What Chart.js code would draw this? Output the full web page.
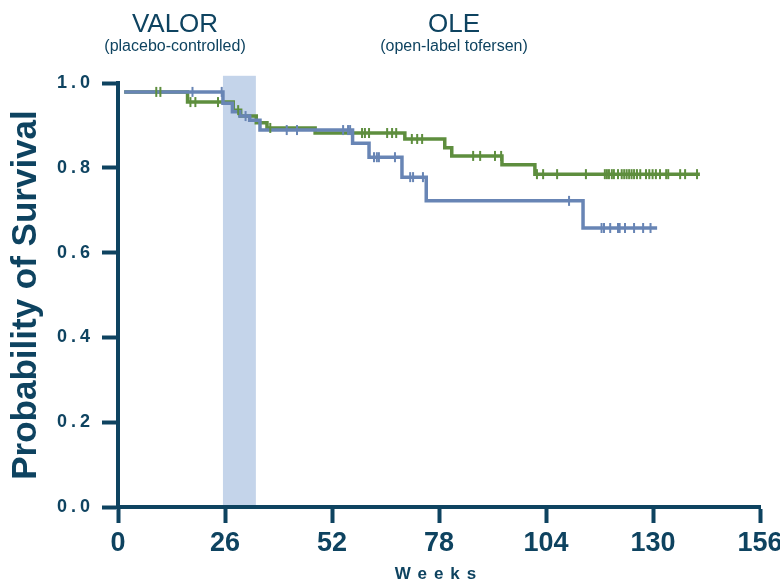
<!DOCTYPE html>
<html>
<head>
<meta charset="utf-8">
<script src="https://cdn.jsdelivr.net/npm/chart.js@4.4.1/dist/chart.umd.min.js"></script>
<style>
  html, body { margin: 0; padding: 0; background: #fff; }
  #wrap { width: 780px; height: 583px; position: relative; }
</style>
</head>
<body>
<div id="wrap"><canvas id="km"></canvas></div>
<script>
// Kaplan-Meier steps (weeks, probability of survival)
const greenWeeks = [1.5, 16.9, 28.0, 29.8, 33.6, 36.2, 47.9, 69.7, 79.4, 81.1, 93.3, 101.3, 141.4];
const greenSurv  = [0.979, 0.955, 0.936, 0.922, 0.906, 0.894, 0.882, 0.868, 0.847, 0.828, 0.807, 0.785, 0.785];
const blueWeeks  = [1.5, 25.5, 27.8, 29.6, 32.0, 34.5, 57.0, 61.0, 69.0, 74.9, 113.0, 131.0];
const blueSurv   = [0.979, 0.952, 0.932, 0.922, 0.912, 0.889, 0.858, 0.825, 0.778, 0.722, 0.658, 0.658];

// censored observations (weeks)
const greenCensor = [9.3, 10.3, 17.6, 18.8, 24.3, 29.2, 37.0, 59.3, 60.0, 61.0, 65.4, 66.6, 67.6,
  71.4, 72.7, 73.9, 86.3, 88.0, 91.6, 93.1, 101.8, 103.3, 106.7, 113.7, 118.3, 118.8, 119.3,
  120.0, 120.5, 121.5, 122.4, 123.0, 123.6, 124.2, 124.8, 125.4, 126.1, 126.9, 128.3, 129.1,
  129.9, 130.7, 131.7, 133.2, 133.7, 136.6, 137.8, 140.7];
const blueCensor = [18.1, 25.2, 31.0, 41.0, 43.5, 54.7, 55.9, 56.4, 62.2, 62.9, 63.4, 67.3,
  71.0, 71.7, 74.1, 109.6, 117.5, 118.1, 119.6, 121.5, 121.9, 123.2, 125.4, 127.6, 129.4];

// shaded VALOR -> OLE transition window
const bandWeeks = [25.5, 33.5];
const bandTop = 1.017;

const xTicks = [0, 26, 52, 78, 104, 130, 156];

const axisColor = "#0e4360";
const green = "#5e8e3e";
const blue = "#6885b5";

function levelAt(weeks, surv, t) {
  let v = surv[0];
  for (let i = 0; i < weeks.length; i++) if (weeks[i] <= t) v = surv[i];
  return v;
}

// linear scale that honours a letterSpacing option for labels and title
class SpacedLinearScale extends Chart.LinearScale {
  drawLabels(chartArea) {
    this.ctx.save();
    this.ctx.letterSpacing = this.options.ticks.letterSpacing || "0px";
    super.drawLabels(chartArea);
    this.ctx.restore();
  }
  drawTitle() {
    this.ctx.save();
    this.ctx.letterSpacing = this.options.title.letterSpacing || "0px";
    super.drawTitle();
    this.ctx.restore();
  }
}
SpacedLinearScale.id = "spacedLinear";
SpacedLinearScale.defaults = Chart.LinearScale.defaults;
Chart.register(SpacedLinearScale);

const bandPlugin = {
  id: "band",
  beforeDraw(chart) {
    const { ctx, scales: { x, y }, chartArea } = chart;
    const x0 = x.getPixelForValue(bandWeeks[0]);
    const x1 = x.getPixelForValue(bandWeeks[1]);
    const top = y.getPixelForValue(bandTop);
    ctx.save();
    ctx.fillStyle = "#c4d4ea";
    ctx.fillRect(x0, top, x1 - x0, chartArea.bottom - top);
    ctx.restore();
  },
};

const headerPlugin = {
  id: "header",
  afterDraw(chart) {
    const ctx = chart.ctx;
    ctx.save();
    ctx.fillStyle = axisColor;
    ctx.textAlign = "center";
    ctx.textBaseline = "alphabetic";
    ctx.font = "26px 'Liberation Sans', Arial, sans-serif";
    ctx.fillText("VALOR", 175, 32);
    ctx.fillText("OLE", 454, 32);
    ctx.font = "16px 'Liberation Sans', Arial, sans-serif";
    ctx.fillText("(placebo-controlled)", 175, 51);
    ctx.fillText("(open-label tofersen)", 454, 51);
    ctx.restore();
  },
};

const steps = (weeks, surv) => weeks.map((w, i) => ({ x: w, y: surv[i] }));
const marks = (cens, weeks, surv) => cens.map((w) => ({ x: w, y: levelAt(weeks, surv, w) }));

const censorStyle = (color) => ({
  showLine: false,
  pointStyle: "line",
  rotation: 90,
  pointRadius: 5,
  pointBorderWidth: 2,
  borderColor: color,
  backgroundColor: color,
});

new Chart(document.getElementById("km"), {
  type: "line",
  data: {
    datasets: [
      { data: marks(greenCensor, greenWeeks, greenSurv), ...censorStyle(green) },
      { data: marks(blueCensor, blueWeeks, blueSurv), ...censorStyle(blue) },
      {
        data: steps(blueWeeks, blueSurv),
        stepped: "before",
        borderColor: blue,
        borderWidth: 3.5,
        pointRadius: 0,
        fill: false,
      },
      {
        data: steps(greenWeeks, greenSurv),
        stepped: "before",
        borderColor: green,
        borderWidth: 3.5,
        pointRadius: 0,
        fill: false,
      },
    ],
  },
  options: {
    responsive: true,
    maintainAspectRatio: false,
    animation: false,
    layout: { padding: { top: 83, right: 20, left: 0, bottom: 0 } },
    plugins: { legend: { display: false }, tooltip: { enabled: false } },
    scales: {
      x: {
        type: "spacedLinear",
        min: 0,
        max: 156,
        afterBuildTicks: (s) => { s.ticks = xTicks.map((v) => ({ value: v })); },
        afterFit: (s) => { s.height = 76; s.paddingLeft = 0; s.paddingRight = 0; },
        grid: { drawOnChartArea: false, color: axisColor, tickLength: 16, tickWidth: 4, tickColor: axisColor },
        border: { display: true, color: axisColor, width: 4 },
        ticks: {
          color: axisColor,
          padding: 4,
          maxRotation: 0,
          font: { family: "'Liberation Sans', Arial, sans-serif", size: 27, weight: "bold" },
        },
        title: {
          display: true,
          text: "Weeks",
          color: axisColor,
          letterSpacing: "7px",
          padding: { top: 0, bottom: 0 },
          font: { family: "'Liberation Sans', Arial, sans-serif", size: 17, weight: "bold", lineHeight: 1 },
        },
      },
      y: {
        type: "spacedLinear",
        min: 0,
        max: 1,
        afterFit: (s) => { s.width = 118; s.paddingTop = 0; s.paddingBottom = 0; },
        grid: { drawOnChartArea: false, color: axisColor, tickLength: 16, tickWidth: 4, tickColor: axisColor },
        border: { display: true, color: axisColor, width: 4 },
        ticks: {
          stepSize: 0.2,
          color: axisColor,
          padding: 8,
          letterSpacing: "4px",
          callback: (v) => v.toFixed(1),
          font: { family: "'Liberation Sans', Arial, sans-serif", size: 18, weight: "bold" },
        },
        title: {
          display: true,
          text: "Probability of Survival",
          color: axisColor,
          padding: { top: 5, bottom: 0 },
          font: { family: "'Liberation Sans', Arial, sans-serif", size: 35, weight: "bold", lineHeight: 1.2 },
        },
      },
    },
  },
  plugins: [bandPlugin, headerPlugin],
});
</script>
</body>
</html>
